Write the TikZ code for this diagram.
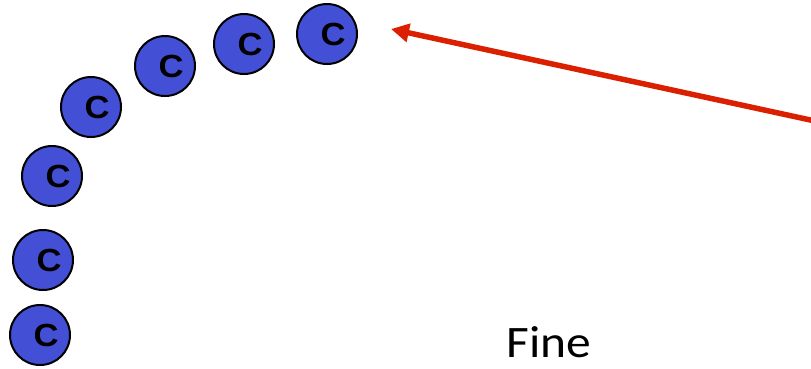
\documentclass[tikz,border=0pt]{standalone}
\usepackage{fontspec}
\setmainfont{Carlito}
\newfontfamily\atomfont{Liberation Sans}
\usetikzlibrary{arrows.meta}
\definecolor{atomblue}{RGB}{67,80,214}
\definecolor{arrowred}{RGB}{218,32,0}
\newcommand{\atomlabel}{\hspace*{12pt}\scalebox{1.08}[1]{C}}
\tikzset{
  atom/.style={circle, draw=black, line width=2pt, fill=atomblue,
    minimum size=60pt, inner sep=0pt,
    font=\atomfont\bfseries\fontsize{32}{32}\selectfont},
  pointer/.style={draw=arrowred, line width=5.5pt,
    -{Triangle[length=18pt,width=18pt]}}
}
\begin{document}
\begin{tikzpicture}[x=1pt,y=-1pt]
  \useasboundingbox (0,0) rectangle (811,368);
  % chain of atoms curving up and to the right
  \node[atom] (c1) at (40,335) {\atomlabel};
  \node[atom] (c2) at (43,260) {\atomlabel};
  \node[atom] (c3) at (52,176) {\atomlabel};
  \node[atom] (c4) at (91,107) {\atomlabel};
  \node[atom] (c5) at (165,66) {\atomlabel};
  \node[atom] (c6) at (244,44) {\atomlabel};
  \node[atom] (c7) at (327,34) {\atomlabel};
  % arrow entering from the right edge
  \coordinate (tail) at (815,121);
  \coordinate (tip) at (391,29);
  \draw[pointer] (tail) -- (tip);
  \node[font=\fontsize{45}{45}\selectfont, inner sep=0pt, anchor=base] (fine) at (549,357) {\scalebox{1.1}[1]{Fine}};
\end{tikzpicture}
\end{document}
